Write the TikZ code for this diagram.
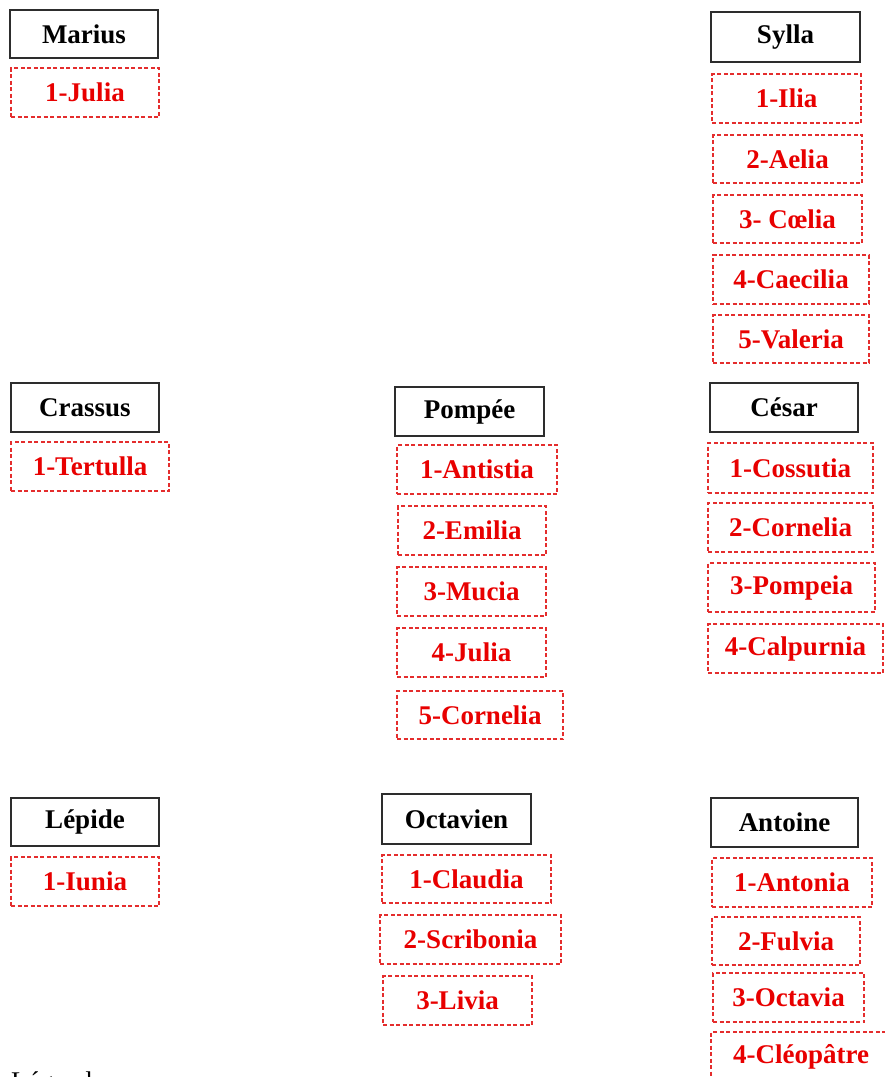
\documentclass[tikz,border=0pt]{standalone}
\usepackage{fontspec}
\setmainfont{Liberation Serif}
\definecolor{wifetext}{RGB}{232,0,0}
\definecolor{wifeline}{RGB}{228,45,45}
\definecolor{husbline}{RGB}{45,45,45}
\tikzset{
  husband/.style={draw=husbline, line width=1.8pt, inner sep=0pt, outer sep=0pt,
    font=\bfseries\fontsize{27}{30}\selectfont, text=black},
  wife/.style={draw=wifeline, line width=1.4pt, dash pattern=on 4pt off 2.5pt,
    inner sep=0pt, outer sep=0pt,
    font=\bfseries\fontsize{27}{30}\selectfont, text=wifetext},
}
\newcommand\bx[7]{\node[#1, anchor=north west, minimum width={(#5-#3)*1pt}, minimum height={(#6-#4)*1pt}] (#2) at (#3pt,-#4pt) {#7};}
\begin{document}
\begin{tikzpicture}
\useasboundingbox (0,0) rectangle (885pt,-1077pt);
% Marius
\bx{husband}{marius}{10}{10}{158}{58}{Marius}
\bx{wife}{mariusA}{11}{68}{159}{117}{1-Julia}
% Sylla
\bx{husband}{sylla}{711}{12}{860}{62}{Sylla}
\bx{wife}{syllaA}{712}{74}{861}{123}{1-Ilia}
\bx{wife}{syllaB}{713}{135}{862}{183}{2-Aelia}
\bx{wife}{syllaC}{713}{195}{862}{243}{3- Cœlia}
\bx{wife}{syllaD}{713}{255}{869}{304}{4-Caecilia}
\bx{wife}{syllaE}{713}{315}{869}{363}{5-Valeria}
% Crassus
\bx{husband}{crassus}{11}{383}{159}{432}{Crassus}
\bx{wife}{crassusA}{11}{442}{169}{491}{1-Tertulla}
% Pompee
\bx{husband}{pompee}{395}{387}{544}{436}{Pompée}
\bx{wife}{pompeeA}{397}{445}{557}{494}{1-Antistia}
\bx{wife}{pompeeB}{398}{506}{546}{555}{2-Emilia}
\bx{wife}{pompeeC}{397}{567}{546}{616}{3-Mucia}
\bx{wife}{pompeeD}{397}{628}{546}{677}{4-Julia}
\bx{wife}{pompeeE}{397}{691}{563}{739}{5-Cornelia}
% Cesar
\bx{husband}{cesar}{710}{383}{858}{432}{César}
\bx{wife}{cesarA}{708}{443}{873}{493}{1-Cossutia}
\bx{wife}{cesarB}{708}{503}{873}{552}{2-Cornelia}
\bx{wife}{cesarC}{708}{563}{875}{612}{3-Pompeia}
\bx{wife}{cesarD}{708}{624}{883}{673}{4-Calpurnia}
% Lepide
\bx{husband}{lepide}{11}{798}{159}{846}{Lépide}
\bx{wife}{lepideA}{11}{857}{159}{906}{1-Iunia}
% Octavien
\bx{husband}{octavien}{382}{794}{531}{844}{Octavien}
\bx{wife}{octavienA}{382}{855}{551}{903}{1-Claudia}
\bx{wife}{octavienB}{380}{915}{561}{964}{2-Scribonia}
\bx{wife}{octavienC}{383}{976}{532}{1025}{3-Livia}
% Antoine
\bx{husband}{antoine}{711}{798}{858}{847}{Antoine}
\bx{wife}{antoineA}{712}{858}{872}{907}{1-Antonia}
\bx{wife}{antoineB}{712}{917}{860}{965}{2-Fulvia}
\bx{wife}{antoineC}{713}{973}{864}{1022}{3-Octavia}
\bx{wife}{antoineD}{711}{1032}{891}{1081}{4-Cléopâtre}
% Legend
\node[anchor=base west, inner sep=0pt, font=\fontsize{27}{30}\selectfont] (legende) at (11pt,-1090pt) {Légende};
\end{tikzpicture}
\end{document}
